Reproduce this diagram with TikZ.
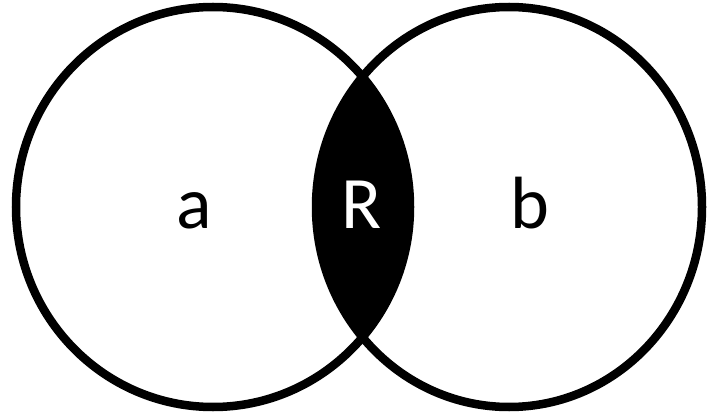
\documentclass[tikz,border=0pt]{standalone}
\usepackage{fontspec}
\newfontfamily\labelfont{Carlito}
\usetikzlibrary{positioning}

\begin{document}
\begin{tikzpicture}[
        x=1pt, y=-1pt,
        every node/.style={align=center, font=\labelfont\fontsize{74}{88}\selectfont, inner sep=0pt},
        setline/.style={draw=black, line width=8.5pt},
        setlabel/.style={anchor=base}
    ]
        \useasboundingbox (0,0) rectangle (709,414);
        % shaded intersection
        \begin{scope}
            \clip (213,207) ellipse [x radius=197, y radius=200];
            \fill[black] (509,207) ellipse [x radius=193, y radius=200];
        \end{scope}
        % outlines
        \draw[setline] (213,207) ellipse [x radius=197, y radius=200];
        \draw[setline] (509,207) ellipse [x radius=193, y radius=200];
        % labels
        \node[setlabel] (a) at (194.5,229) {a};
        \node[setlabel, text=white] (R) at (361.5,229) {R};
        \node[setlabel] (b) at (529.5,229) {b};
    \end{tikzpicture}
\end{document}
